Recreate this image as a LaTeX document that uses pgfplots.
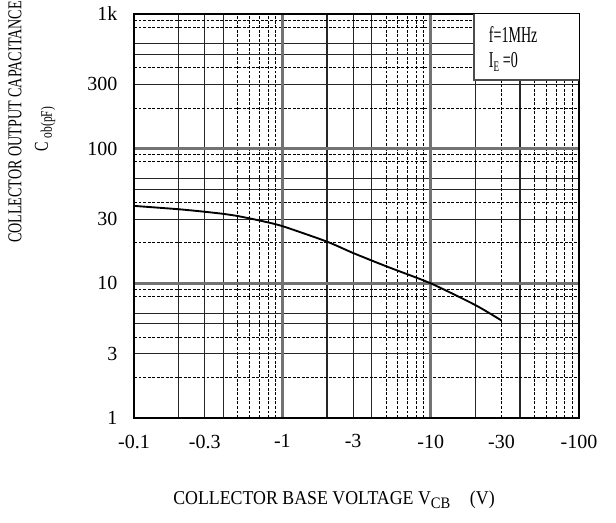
\documentclass[border=0pt]{standalone}
\usepackage{fontspec}
\setmainfont{Liberation Serif}
\newfontfamily\ylabfont[FakeStretch=0.72]{Liberation Serif}
\newfontfamily\xlabfont[FakeStretch=0.91]{Liberation Serif}
\newfontfamily\boxfont[FakeStretch=0.62]{Liberation Serif}
\usepackage{pgfplots}
\pgfplotsset{compat=1.18}

\begin{document}
\begin{tikzpicture}
\useasboundingbox (0pt,0pt) rectangle (462pt,391.5pt);

% background grid: thin solid lines, dashed lines, thick decade lines
\begin{axis}[
    at={(100.5pt,78pt)}, anchor=south west,
    scale only axis, width=333.75pt, height=303pt,
    xmode=log, ymode=log,
    xmin=0.1, xmax=100, ymin=1, ymax=1000,
    xtick={0.2,0.3,0.4,2,3,4,20,40},
    minor xtick={0.5,0.6,0.7,0.8,0.9,5,6,7,8,9,30,50,60,70,80,90},
    ytick={3,5,6,30,50,60,300,500,600},
    minor ytick={2,4,8,9,20,40,80,90,200,400,800,900},
    xticklabels={}, yticklabels={},
    major tick length=0pt, minor tick length=0pt,
    grid=both,
    major grid style={black!85, line width=0.8pt},
    minor grid style={black, line width=0.6pt, dash pattern=on 2.2pt off 1.2pt},
    extra x ticks={1,10}, extra y ticks={10,100},
    extra x tick labels={}, extra y tick labels={},
    extra tick style={grid=major, major grid style={black!55, line width=1.8pt}},
    axis line style={draw=none},
]
\end{axis}

% foreground: frame, labels, curve
\begin{axis}[
    at={(100.5pt,78pt)}, anchor=south west,
    scale only axis, width=333.75pt, height=303pt,
    xmode=log, ymode=log,
    xmin=0.1, xmax=100, ymin=1, ymax=1000,
    xtick={0.1,0.3,1,3,10,30,100},
    xticklabels={-0.1,-0.3,-1,-3,-10,-30,-100},
    ytick={1,3,10,30,100,300,1000},
    yticklabels={1,3,10,30,100,300,1k},
    minor xtick={}, minor ytick={},
    major tick length=0pt,
    tick label style={font=\fontsize{15}{17}\selectfont, black},
    /pgf/number format/assume math mode=true,
    xticklabel style={yshift=-9pt},
    yticklabel style={xshift=-9pt},
    axis line style={black, line width=1.6pt},
    clip=false,
]
\fill[white] (rel axis cs:0.764,0.837) rectangle (rel axis cs:1,1);
\draw[black!70, line width=1pt] (rel axis cs:0.764,1) -- (rel axis cs:0.764,0.837) -- (rel axis cs:1,0.837);
\node[anchor=west, inner sep=0pt, font=\boxfont\fontsize{17}{19}\selectfont] at (rel axis cs:0.797,0.95) {f=1MHz};
\node[anchor=west, inner sep=0pt, font=\boxfont\fontsize{17}{19}\selectfont] at (rel axis cs:0.797,0.882) {I\raisebox{-3pt}{\fontsize{11}{12}\selectfont E}\,=0};

\addplot[black, line width=1.4pt, smooth, tension=0.4] coordinates {
    (0.1,37.6) (0.2,35.5) (0.3,34) (0.4,32.8) (0.5,31.6)
    (0.7,29.3) (1,26.6) (2,20.4) (3,16.8) (5,13.4)
    (10,10) (20,6.9) (30,5.3)
};
\end{axis}

\node[font=\ylabfont\fontsize{14.7}{17}\selectfont, rotate=90] at (11.25pt,300pt) {COLLECTOR OUTPUT CAPACITANCE};
\node[font=\ylabfont\fontsize{14.7}{17}\selectfont, rotate=90] at (33.75pt,294.75pt) {C\,\raisebox{-3pt}{\fontsize{12}{14}\selectfont ob(pF)}};
\node[font=\xlabfont\fontsize{14.7}{17}\selectfont] at (250.5pt,16.5pt) {COLLECTOR BASE VOLTAGE V\raisebox{-3pt}{\fontsize{12}{14}\selectfont CB}\quad(V)};
\end{tikzpicture}
\end{document}
